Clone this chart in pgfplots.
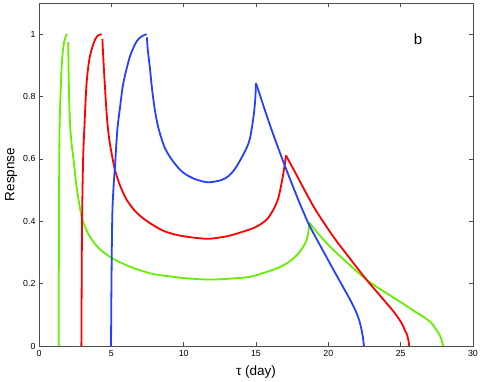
\documentclass[border=0pt]{standalone}
\usepackage{fontspec}
\setmainfont{Liberation Sans}
\usepackage{pgfplots}
\pgfplotsset{compat=1.18}
\definecolor{cgreen}{RGB}{100,240,0}
\definecolor{cred}{RGB}{255,0,0}
\definecolor{cblue}{RGB}{35,65,255}
\pgfplotsset{curve/.style={line width=1.8pt, line join=round, smooth, tension=0.5}}
\begin{document}
\begin{tikzpicture}
\begin{axis}[
  scale only axis,
  width=434pt, height=343pt,
  xmin=0, xmax=30, ymin=0, ymax=1.1,
  xtick={0,5,10,15,20,25,30},
  ytick={0,0.2,0.4,0.6,0.8,1},
  yticklabels={0,0.2,0.4,0.6,0.8,1},
  tick align=inside,
  major tick length=4pt,
  axis line style={black!70, line width=0.6pt},
  tick style={black!70, line width=0.6pt},
  /pgf/number format/assume math mode=true,
  tick label style={font=\fontsize{8.8}{10}\selectfont},
  xticklabel style={yshift=-1pt},
  xlabel={τ (day)},
  ylabel={Respnse},
  label style={font=\fontsize{13.5}{15}\selectfont},
  xlabel style={at={(axis description cs:0.5,-0.0758)}, anchor=center},
  ylabel style={at={(axis description cs:-0.064,0.5)}, anchor=center},
]
% green
\addplot[curve, cgreen] coordinates {
(1.36,0) (1.37,0.2) (1.38,0.4) (1.40,0.6) (1.43,0.72) (1.5,0.82) (1.57,0.9) (1.66,0.95) (1.75,0.977) (1.86,0.995) (1.96,1.0)};
\addplot[curve, cgreen] coordinates {
(2.02,0.975) (2.04,0.9) (2.08,0.8) (2.15,0.71) (2.25,0.65) (2.37,0.605) (2.6,0.51) (2.95,0.415) (3.4,0.36) (4.1,0.315) (5.0,0.283) (6.0,0.26) (6.9,0.244) (8.0,0.23) (10.0,0.218) (11.8,0.213) (13.5,0.217) (14.6,0.222) (15.7,0.237) (16.6,0.252) (17.35,0.272) (17.9,0.295) (18.27,0.319) (18.5,0.34) (18.62,0.365) (18.68,0.396)};
\addplot[curve, cgreen] coordinates {
(18.68,0.396) (19.4,0.355) (20.11,0.319) (21.0,0.28) (22.65,0.212) (23.8,0.176) (24.95,0.142) (26.0,0.11) (26.56,0.094) (27.1,0.075) (27.48,0.051) (27.75,0.03) (27.94,0)};
% red
\addplot[curve, cred] coordinates {
(2.93,0) (2.95,0.2) (2.98,0.415) (3.05,0.6) (3.13,0.693) (3.29,0.843) (3.52,0.929) (3.87,0.982) (4.1,0.996) (4.33,1.0)};
\addplot[curve, cred] coordinates {
(4.38,0.985) (4.45,0.92) (4.56,0.83) (4.7,0.73) (4.85,0.665) (5.05,0.61) (5.25,0.565) (5.6,0.515) (6.06,0.469) (6.6,0.435) (7.1,0.413) (7.67,0.394) (8.48,0.372) (9.2,0.36) (9.97,0.352) (11.0,0.346) (11.8,0.344) (13.0,0.352) (14.12,0.367) (15.0,0.382) (15.73,0.405) (16.2,0.437) (16.54,0.474) (16.8,0.53) (16.98,0.58) (17.07,0.611)};
\addplot[curve, cred] coordinates {
(17.07,0.611) (17.6,0.566) (18.61,0.478) (19.19,0.431) (20.34,0.351) (21.5,0.28) (22.65,0.212) (24.03,0.137) (24.6,0.105) (25.07,0.073) (25.3,0.05) (25.45,0.035) (25.55,0.015) (25.59,0)};
% blue
\addplot[curve, cblue] coordinates {
(4.98,0) (5.0,0.15) (5.06,0.404) (5.14,0.5) (5.25,0.575) (5.41,0.69) (5.6,0.765) (5.83,0.843) (6.29,0.929) (6.75,0.977) (7.1,0.993) (7.44,1.0)};
\addplot[curve, cblue] coordinates {
(7.46,0.99) (7.52,0.95) (7.67,0.89) (7.8,0.83) (8.0,0.76) (8.25,0.70) (8.7,0.635) (9.3,0.59) (9.97,0.556) (10.8,0.535) (11.7,0.525) (12.6,0.532) (13.1,0.545) (13.5,0.565) (13.9,0.595) (14.35,0.635) (14.58,0.665) (14.75,0.71) (14.88,0.755) (14.96,0.8) (15.0,0.843)};
\addplot[curve, cblue] coordinates {
(15.0,0.843) (15.96,0.709) (16.88,0.592) (17.92,0.469) (18.27,0.431) (18.73,0.383) (20.11,0.265) (21.26,0.169) (21.6,0.14) (21.96,0.105) (22.15,0.08) (22.3,0.051) (22.4,0.025) (22.46,0)};
\node[font=\fontsize{15}{17}\selectfont] at (axis cs:26.2,0.985) {b};
\end{axis}
\pgfresetboundingbox
\path[use as bounding box] ([shift={(-39pt,-36pt)}]current axis.south west) rectangle ([shift={(9pt,3pt)}]current axis.north east);
\end{tikzpicture}
\end{document}
